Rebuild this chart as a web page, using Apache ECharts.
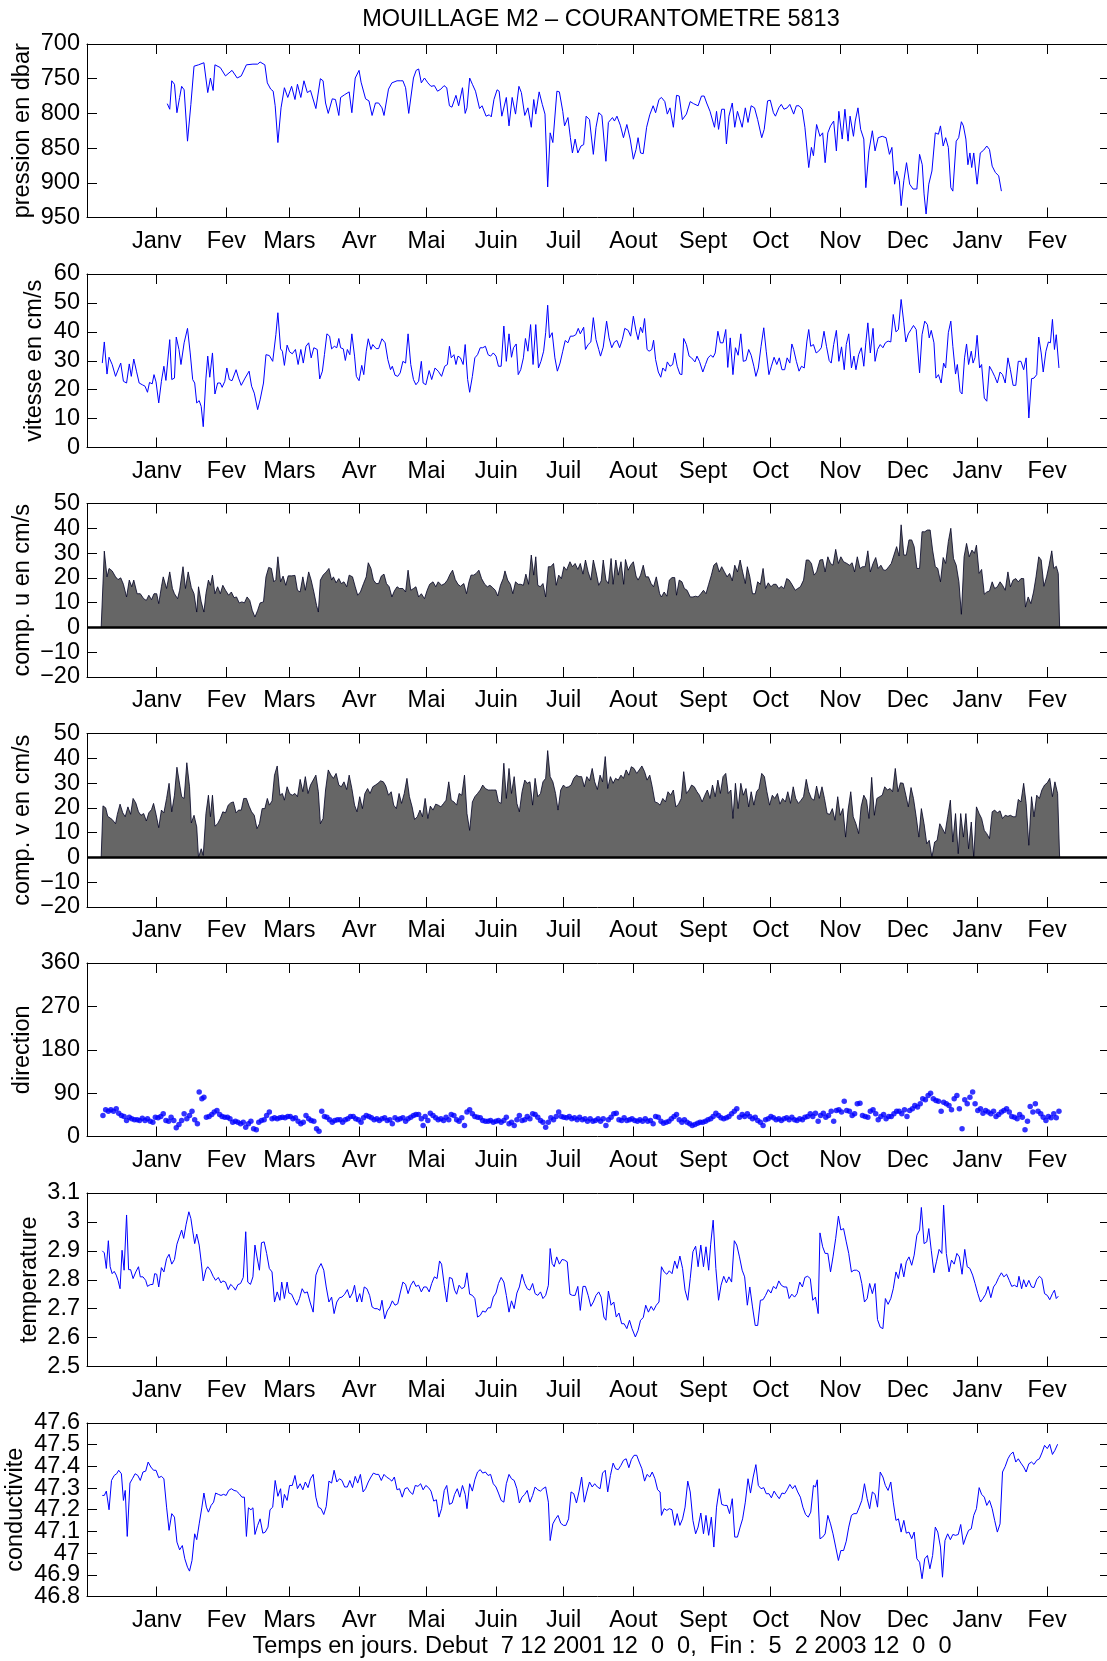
<!DOCTYPE html>
<html><head><meta charset="utf-8">
<script src="https://cdn.jsdelivr.net/npm/echarts@6/dist/echarts.min.js"></script>
<style>html,body{margin:0;padding:0;background:#fff}#c{width:1107px;height:1661px}</style>
</head><body><div id="c"></div>
<script>
// x = days since 1 Dec 2001 00:00
const monthTicks = [31,62,90,121,151,182,212,243,274,304,335,365,396,427];
const monthLabels = ['Janv','Fev','Mars','Avr','Mai','Juin','Juil','Aout','Sept','Oct','Nov','Dec','Janv','Fev'];

const pression = [[35.7,786],[36.8,794],[37.7,753],[38.9,758],[40.0,799],[41.2,777],[42.1,761],[43.2,766],[44.7,840],[46.2,787],[47.6,732],[49.6,730],[52.0,727],[53.7,770],[54.9,749],[56.1,767],[56.9,730],[59.3,734],[61.6,746],[64.5,738],[66.8,749],[68.6,746],[70.9,730],[73.8,729],[75.9,729],[77.0,726],[79.1,730],[80.2,756],[81.7,765],[82.8,768],[83.7,789],[84.9,842],[86.3,792],[87.8,763],[89.3,777],[91.0,761],[92.5,780],[93.6,758],[95.1,777],[96.5,753],[98.0,770],[99.4,767],[101.8,793],[103.8,750],[105.0,753],[106.1,785],[107.3,800],[109.1,779],[110.5,780],[112.0,803],[112.8,777],[114.6,773],[116.6,769],[117.8,799],[119.3,749],[121.0,738],[121.9,755],[122.7,753],[123.9,779],[125.4,782],[126.8,803],[128.3,785],[129.7,785],[131.2,792],[132.1,803],[134.1,765],[135.6,756],[137.9,753],[139.3,753],[140.5,753],[141.7,763],[143.1,800],[145.2,749],[146.4,738],[147.5,736],[148.7,756],[150.1,749],[151.6,756],[153.0,761],[154.5,760],[155.9,768],[157.4,765],[158.8,760],[160.0,763],[161.2,789],[162.3,791],[164.1,774],[165.3,789],[167.0,763],[168.2,800],[169.0,792],[170.2,749],[171.4,758],[172.8,768],[174.6,793],[175.7,789],[177.5,804],[178.9,802],[179.8,805],[181.0,780],[182.4,766],[183.3,768],[184.5,804],[186.5,777],[187.7,818],[189.1,777],[190.6,801],[192.1,761],[193.2,770],[194.7,803],[196.1,792],[197.6,820],[198.7,780],[199.6,801],[201.1,769],[202.5,787],[203.7,801],[204.9,906],[206.0,828],[207.2,842],[209.0,768],[210.1,769],[211.6,797],[212.4,818],[213.9,806],[215.0,835],[215.9,857],[217.1,837],[218.3,857],[219.7,847],[220.9,845],[222.0,804],[223.5,809],[225.2,859],[226.4,820],[227.6,799],[229.0,803],[230.8,869],[231.9,813],[233.7,806],[234.6,811],[235.7,804],[237.2,817],[238.6,835],[240.1,816],[241.6,837],[243.0,866],[244.2,852],[245.1,835],[246.2,857],[247.4,858],[248.9,820],[250.3,802],[251.8,789],[252.9,799],[254.4,780],[255.5,777],[257.0,783],[258.1,801],[259.3,792],[260.8,820],[262.2,774],[263.4,775],[264.8,809],[266.6,801],[268.3,783],[269.8,786],[271.8,789],[273.3,775],[274.5,775],[275.6,785],[277.1,797],[279.1,820],[280.0,797],[280.9,823],[282.3,794],[283.5,794],[284.4,844],[285.5,804],[287.0,785],[288.1,820],[289.3,797],[291.4,820],[292.8,792],[294.0,813],[295.4,789],[296.9,792],[298.3,809],[300.1,835],[301.2,823],[302.7,782],[303.9,781],[305.3,799],[306.2,804],[307.7,792],[308.8,787],[310.0,794],[311.4,792],[312.6,787],[314.3,801],[315.5,789],[316.7,789],[318.1,794],[319.3,820],[321.0,878],[322.2,849],[323.1,861],[324.5,816],[326.0,833],[327.2,828],[328.3,871],[329.5,828],[330.7,818],[332.1,811],[333.3,854],[334.4,797],[335.9,837],[337.1,794],[338.5,840],[339.4,804],[340.9,833],[341.7,811],[342.9,792],[344.1,823],[345.5,837],[346.4,907],[347.8,854],[349.3,825],[350.5,854],[351.9,835],[353.7,833],[355.4,835],[356.9,859],[358.0,849],[359.2,902],[360.1,883],[361.3,897],[362.1,933],[363.3,897],[364.5,871],[365.9,902],[367.4,909],[369.1,909],[370.3,859],[371.5,874],[372.3,916],[373.2,945],[374.4,902],[375.8,883],[377.3,828],[378.7,830],[379.6,818],[380.8,847],[381.9,835],[383.1,849],[384.2,907],[385.1,912],[386.6,840],[387.7,835],[388.9,812],[389.8,818],[390.9,837],[391.8,874],[392.7,857],[393.5,878],[394.4,857],[395.9,902],[397.3,857],[398.8,853],[400.2,847],[401.4,852],[402.6,876],[404.0,885],[405.5,890],[406.7,912]];

const vitesse = [[6.8,29.2],[7.7,36.5],[8.9,25.4],[9.8,31.2],[11.2,28.7],[12.7,24.6],[13.5,24.6],[15.0,29.2],[16.2,22.9],[17.6,22.3],[18.8,28.9],[19.7,24.6],[20.8,30.6],[22.0,26.4],[23.2,22.3],[24.6,21.7],[25.8,21.2],[26.9,19.1],[27.8,22.5],[29.0,22.0],[29.8,25.2],[30.7,22.7],[31.9,15.4],[33.1,22.9],[34.2,28.1],[35.1,23.2],[36.8,37.3],[37.7,23.5],[38.9,24.0],[39.7,38.2],[40.9,33.9],[41.8,28.7],[43.2,36.2],[44.7,41.2],[45.9,32.7],[47.0,23.5],[47.9,22.3],[48.8,15.4],[49.9,16.2],[50.8,14.2],[51.7,7.2],[52.9,24.0],[53.7,31.6],[54.6,24.3],[55.8,32.7],[56.9,18.5],[58.1,22.3],[59.3,22.3],[60.1,20.8],[61.3,22.9],[62.2,27.5],[63.3,23.5],[64.5,23.1],[66.3,26.9],[67.4,24.0],[68.6,21.5],[70.3,24.0],[72.1,26.4],[73.2,21.2],[74.4,18.8],[75.9,13.1],[77.0,16.5],[78.5,22.3],[79.6,32.1],[81.1,31.8],[82.6,29.8],[84.0,39.0],[84.9,46.6],[86.1,34.1],[86.9,33.3],[87.8,28.4],[89.0,35.4],[90.1,33.1],[91.3,32.4],[92.7,33.9],[93.9,28.7],[95.1,33.9],[96.2,29.2],[97.4,35.0],[98.6,36.2],[99.7,31.0],[100.9,34.5],[102.4,33.9],[103.5,23.7],[104.7,26.4],[105.6,32.1],[106.7,39.3],[107.9,38.5],[108.8,34.1],[110.0,35.0],[111.1,34.5],[112.0,37.7],[112.8,34.5],[114.0,34.1],[114.9,30.1],[115.8,33.9],[116.9,32.1],[117.8,39.3],[119.0,31.6],[119.8,24.6],[121.0,23.1],[122.2,28.4],[123.1,25.2],[124.2,33.3],[125.1,37.6],[126.3,33.9],[127.1,35.6],[128.6,34.2],[129.7,34.2],[131.2,37.6],[132.6,36.2],[133.8,30.4],[135.0,26.9],[135.8,28.1],[137.0,25.0],[138.2,24.6],[139.3,25.8],[140.5,29.8],[141.7,29.2],[142.8,39.3],[144.0,28.7],[145.2,23.5],[146.3,21.7],[147.5,22.9],[148.7,29.8],[149.5,22.3],[150.7,21.7],[152.2,26.6],[153.3,23.5],[154.8,27.5],[156.2,26.4],[157.7,24.6],[159.1,28.1],[160.3,28.7],[161.2,35.0],[162.0,31.0],[163.2,32.1],[164.1,28.7],[165.0,31.6],[166.1,31.0],[167.3,28.7],[168.2,35.6],[169.3,23.5],[170.2,19.1],[171.4,24.6],[172.5,31.0],[173.7,32.1],[174.9,34.5],[176.0,34.5],[177.2,35.0],[178.4,32.1],[179.5,31.6],[180.7,32.7],[181.9,31.6],[183.0,28.1],[184.2,28.1],[185.4,42.0],[186.5,29.8],[187.7,39.3],[188.8,31.2],[189.7,34.5],[190.9,35.8],[191.8,25.2],[192.9,26.9],[194.1,31.0],[195.0,37.7],[196.1,33.3],[197.3,42.5],[198.4,28.7],[199.6,42.5],[200.8,27.5],[201.9,29.8],[203.1,33.3],[204.0,39.7],[204.9,49.2],[205.7,37.9],[206.9,39.7],[208.1,31.0],[209.2,26.4],[210.4,29.2],[211.6,33.3],[212.7,37.0],[213.9,36.2],[215.0,38.5],[216.2,38.5],[217.4,39.0],[218.5,41.2],[219.4,39.3],[220.9,41.6],[221.7,33.9],[222.9,35.6],[224.1,36.5],[225.2,44.9],[226.4,37.3],[227.6,33.9],[228.4,31.6],[229.6,34.7],[231.1,43.7],[232.2,37.9],[233.4,34.5],[234.6,36.5],[235.7,37.0],[236.9,34.5],[238.1,37.3],[239.2,41.2],[240.7,40.5],[241.8,38.5],[243.0,45.4],[244.2,40.2],[245.1,37.3],[246.2,41.6],[247.1,39.7],[248.0,44.6],[249.1,33.9],[250.0,33.3],[251.2,33.9],[252.0,37.1],[252.9,30.4],[254.1,26.1],[255.2,24.3],[256.1,27.5],[257.3,26.4],[258.1,29.6],[259.3,28.1],[260.5,28.7],[261.4,32.7],[262.5,28.1],[263.7,25.4],[264.6,25.2],[265.4,37.7],[266.6,35.6],[267.8,31.6],[268.9,31.0],[270.4,29.6],[271.3,31.6],[272.4,29.8],[273.9,26.1],[275.1,28.7],[276.2,31.0],[277.4,31.9],[278.5,31.2],[279.4,32.7],[280.6,40.2],[281.7,36.2],[282.9,36.2],[284.1,40.8],[285.0,27.7],[286.1,37.9],[287.3,25.2],[288.4,34.5],[289.6,31.9],[290.8,39.3],[291.9,29.8],[293.1,30.1],[294.3,33.9],[295.4,31.9],[296.6,28.1],[297.5,24.6],[298.6,27.5],[299.8,35.0],[301.0,41.4],[302.1,33.3],[303.3,25.2],[304.4,28.1],[305.6,31.2],[306.8,28.7],[307.9,31.0],[309.1,26.9],[310.3,26.9],[311.4,31.0],[312.6,29.2],[313.5,35.8],[314.3,33.9],[315.5,29.8],[316.7,26.4],[317.8,28.1],[319.0,27.5],[320.2,36.8],[321.0,40.8],[321.9,35.0],[323.1,35.6],[324.3,32.7],[325.4,33.3],[326.6,34.5],[327.8,40.2],[328.9,35.0],[330.1,30.1],[331.0,29.2],[332.1,35.6],[333.3,40.5],[334.4,29.8],[335.6,34.8],[336.8,26.9],[337.7,35.6],[338.8,39.3],[340.0,27.5],[341.1,31.6],[342.0,26.9],[343.2,32.1],[344.4,34.5],[345.5,28.1],[346.4,36.2],[347.3,43.1],[348.4,32.7],[349.6,41.2],[350.5,29.8],[351.6,33.9],[352.8,35.6],[354.0,34.5],[355.1,36.2],[356.3,36.8],[357.5,36.5],[358.6,46.0],[359.8,40.0],[360.9,40.8],[362.1,51.2],[363.3,43.1],[364.2,36.5],[365.3,39.3],[366.5,40.8],[367.6,42.2],[368.8,40.8],[370.3,25.8],[371.4,39.0],[372.6,43.7],[373.8,42.5],[374.6,37.9],[375.5,40.5],[376.7,36.2],[377.6,24.0],[378.7,25.2],[379.9,22.3],[381.0,29.2],[381.9,27.5],[383.1,39.7],[384.2,43.7],[385.1,35.0],[386.3,25.4],[387.1,28.7],[388.3,19.4],[389.2,18.5],[390.3,31.0],[391.2,35.8],[392.1,28.7],[393.3,33.3],[394.1,29.2],[395.0,31.2],[395.9,38.8],[397.0,27.5],[397.9,28.7],[399.1,17.1],[400.2,16.0],[401.4,28.1],[402.6,26.4],[403.7,24.6],[404.9,22.3],[406.1,26.1],[407.2,25.2],[408.4,22.3],[409.6,31.0],[410.7,26.9],[411.9,21.5],[413.1,21.5],[414.2,29.8],[415.4,29.8],[416.6,26.9],[417.7,31.0],[418.9,10.2],[420.1,23.8],[421.2,24.0],[422.4,25.2],[423.3,38.2],[424.4,32.7],[425.3,26.1],[426.5,33.3],[427.6,36.5],[428.5,36.2],[429.4,44.3],[430.3,33.9],[431.1,39.0],[432.3,27.5]];

const compU = [[6.3,0],[7.7,30.8],[8.9,20.4],[9.8,23.8],[11.2,22.8],[12.7,20.4],[13.8,19.3],[15.0,20.0],[16.2,17.4],[17.6,12.3],[18.8,19.1],[19.9,16.4],[20.8,19.1],[22.3,13.6],[23.7,13.6],[25.2,11.6],[26.4,10.9],[27.5,13.0],[28.7,11.2],[29.8,13.6],[31.0,13.6],[31.9,9.6],[33.1,16.4],[33.9,20.4],[35.4,15.7],[36.8,22.4],[38.0,15.7],[38.9,13.6],[40.3,11.6],[41.2,15.0],[42.7,24.5],[43.8,15.7],[45.0,22.4],[46.4,16.1],[47.6,13.6],[48.8,6.2],[49.6,16.4],[50.8,10.3],[52.0,6.2],[52.9,13.6],[54.0,19.1],[54.9,17.0],[55.8,21.1],[56.9,13.6],[58.1,16.4],[59.3,13.6],[60.4,17.0],[61.6,15.0],[63.0,13.0],[64.2,14.3],[65.4,12.0],[66.5,12.3],[67.7,9.9],[68.9,10.3],[70.0,9.9],[71.2,12.3],[72.4,10.9],[73.5,6.9],[74.7,4.2],[75.9,6.9],[77.0,9.9],[78.5,10.3],[79.6,20.4],[80.8,24.2],[82.0,23.8],[83.1,18.4],[84.0,19.3],[84.9,28.5],[86.1,18.4],[87.2,20.7],[88.4,17.0],[89.5,20.8],[91.0,20.8],[92.5,21.0],[93.6,15.0],[94.8,14.3],[96.0,20.4],[97.1,15.0],[98.6,22.4],[99.7,19.1],[100.9,14.3],[102.1,8.9],[102.9,6.2],[103.8,19.1],[105.0,21.1],[106.4,22.4],[107.6,23.8],[108.8,19.1],[109.6,20.4],[110.8,18.0],[112.0,19.7],[113.1,17.7],[114.3,18.4],[115.5,16.4],[116.6,21.1],[118.1,20.4],[119.3,16.4],[120.4,13.0],[121.6,14.3],[123.0,17.7],[124.2,20.4],[125.1,26.1],[126.3,23.8],[127.4,19.1],[128.6,17.7],[129.7,17.7],[130.9,20.7],[132.1,21.5],[133.2,17.7],[134.4,16.4],[135.6,12.3],[136.7,14.7],[137.9,16.4],[139.0,15.7],[140.5,15.7],[141.7,14.3],[142.8,23.1],[144.0,15.0],[145.2,15.7],[146.3,16.4],[147.5,12.3],[148.7,13.6],[150.1,11.6],[151.3,15.0],[152.4,17.4],[153.9,18.4],[155.1,16.4],[156.2,18.4],[157.7,17.0],[159.1,17.7],[160.3,19.1],[161.5,21.5],[162.6,23.1],[163.8,19.3],[165.0,17.4],[166.1,16.6],[167.6,17.7],[168.8,13.6],[169.9,18.4],[170.8,21.1],[172.0,21.1],[173.1,21.8],[174.3,23.1],[175.5,19.7],[176.9,17.4],[178.1,16.4],[179.2,17.0],[180.4,16.1],[181.6,15.0],[182.7,12.7],[183.9,17.0],[185.1,19.7],[185.9,22.8],[187.1,19.1],[188.3,17.4],[189.4,13.6],[190.6,18.4],[191.8,17.4],[192.9,17.4],[194.1,17.0],[195.2,21.5],[196.4,17.4],[197.6,29.2],[198.7,21.1],[199.6,28.5],[200.5,17.0],[201.6,16.4],[202.8,17.7],[204.0,12.3],[205.2,24.5],[206.3,24.5],[207.5,25.8],[208.7,17.0],[209.8,21.1],[211.0,19.7],[212.1,24.5],[213.3,23.1],[214.8,26.5],[215.9,24.5],[217.1,25.8],[218.3,23.4],[219.4,25.8],[220.6,21.5],[221.7,27.2],[222.9,22.4],[224.1,19.1],[225.2,27.2],[226.4,22.4],[227.6,17.0],[228.7,18.8],[229.6,27.2],[230.8,19.1],[231.9,17.7],[233.1,27.8],[234.0,17.4],[235.2,27.2],[236.3,21.1],[237.5,26.5],[238.7,17.4],[239.5,27.4],[240.7,23.1],[241.8,25.1],[243.0,26.5],[244.2,20.7],[245.1,19.1],[246.2,21.1],[247.4,25.1],[248.5,20.4],[249.7,20.4],[250.9,17.7],[252.0,16.4],[253.2,20.4],[254.7,13.6],[255.5,12.3],[256.7,14.3],[257.9,12.6],[259.0,19.1],[260.2,20.1],[261.4,20.1],[262.2,13.0],[263.4,19.1],[264.6,18.4],[265.7,15.7],[266.9,15.0],[268.3,12.3],[269.5,12.3],[270.7,12.6],[271.8,12.3],[273.0,13.6],[274.2,15.0],[275.3,13.6],[276.5,17.4],[277.7,21.1],[278.8,25.1],[280.0,26.1],[281.2,22.4],[282.3,24.5],[283.5,22.4],[284.7,20.4],[285.8,21.8],[287.0,18.8],[288.1,25.1],[289.3,22.4],[290.5,27.2],[291.6,22.4],[292.8,17.7],[293.7,24.5],[294.8,20.4],[296.0,13.6],[297.2,13.6],[298.3,18.4],[299.5,17.4],[300.7,23.8],[301.8,15.7],[303.0,18.0],[304.2,16.4],[305.3,17.4],[306.5,17.4],[307.7,15.7],[308.8,16.6],[310.0,15.7],[311.2,19.7],[312.3,19.1],[313.5,17.4],[315.0,15.0],[316.1,15.7],[317.3,16.4],[318.7,19.1],[319.9,27.2],[321.0,27.2],[322.2,25.8],[323.4,21.1],[324.5,22.4],[326.0,27.2],[327.2,27.4],[328.3,22.4],[329.5,28.5],[330.7,25.8],[331.8,25.1],[333.0,31.5],[334.2,25.8],[335.3,28.5],[336.5,26.5],[338.0,25.8],[339.1,25.1],[340.3,26.1],[341.4,22.4],[342.6,28.5],[343.8,23.8],[344.9,24.5],[346.1,24.5],[347.3,30.9],[348.4,22.4],[349.6,25.8],[350.8,28.2],[351.9,23.8],[353.1,25.1],[354.3,23.1],[355.4,23.1],[356.6,24.5],[357.7,25.8],[358.9,29.2],[360.1,32.6],[361.2,28.8],[362.1,41.4],[363.3,29.2],[364.4,29.2],[365.6,35.3],[366.8,35.3],[367.9,32.6],[369.1,23.8],[370.3,23.8],[371.4,38.6],[372.6,38.6],[373.8,39.3],[375.0,39.3],[376.1,31.2],[377.3,24.5],[378.4,23.8],[379.6,18.4],[380.8,28.2],[381.9,25.8],[383.1,34.6],[384.2,40.0],[385.4,27.8],[386.6,25.1],[387.8,18.4],[388.9,5.3],[390.1,28.5],[391.2,33.9],[392.4,28.5],[393.6,31.2],[394.7,29.9],[395.6,33.2],[396.8,21.8],[397.9,23.4],[399.1,13.4],[400.2,14.3],[401.4,14.7],[402.6,18.4],[403.7,15.7],[404.9,16.4],[406.1,18.4],[407.2,17.0],[408.4,15.0],[409.6,22.4],[410.7,16.4],[411.9,19.1],[413.1,19.7],[414.2,18.4],[415.4,19.7],[416.6,19.7],[417.4,8.2],[418.6,12.3],[419.8,9.6],[421.0,14.3],[422.1,20.4],[423.3,28.5],[424.4,27.2],[425.6,16.6],[426.8,20.4],[427.9,25.1],[429.1,30.9],[430.0,23.8],[431.1,24.7],[432.0,21.8],[432.6,0]];

const compV = [[6.3,0],[7.1,20.8],[8.3,20.0],[9.2,16.6],[10.0,17.0],[11.2,15.3],[12.7,13.6],[13.5,17.4],[14.7,21.5],[15.9,18.0],[17.0,16.4],[18.2,20.4],[19.4,17.4],[20.5,23.8],[21.7,22.0],[22.9,18.4],[24.0,17.0],[25.2,17.7],[26.4,14.7],[27.5,18.0],[28.7,19.3],[29.6,21.8],[30.7,17.4],[31.9,12.0],[33.1,19.1],[34.2,18.0],[35.4,23.8],[36.5,29.9],[37.7,18.4],[38.9,25.1],[40.0,36.4],[40.9,31.2],[42.1,24.5],[43.2,23.8],[44.4,38.2],[45.6,28.5],[46.4,13.9],[47.6,17.0],[48.8,12.3],[49.6,0],[50.8,3.5],[51.7,0.8],[52.9,17.7],[54.0,25.1],[54.9,16.4],[55.8,25.1],[56.9,12.6],[58.1,13.6],[59.3,15.7],[60.4,18.4],[61.6,18.0],[62.8,21.1],[63.9,22.0],[65.1,22.4],[66.3,18.0],[67.4,19.1],[68.6,19.1],[69.7,23.8],[70.9,23.8],[72.1,20.7],[73.2,18.4],[74.4,17.0],[75.6,11.6],[76.7,13.6],[77.9,19.7],[79.1,19.7],[80.2,23.8],[81.1,21.1],[82.3,22.8],[83.4,33.2],[84.6,36.9],[85.8,25.1],[86.9,25.8],[87.8,23.1],[89.0,28.5],[90.1,25.8],[91.3,25.1],[92.5,25.8],[93.6,24.5],[94.8,31.5],[96.0,26.5],[97.1,32.6],[98.3,25.8],[99.4,29.2],[100.6,31.2],[101.8,33.2],[102.9,26.5],[103.8,13.6],[105.0,15.7],[106.1,27.2],[107.3,35.3],[108.5,33.2],[109.6,31.9],[110.8,33.9],[112.0,29.2],[113.1,28.5],[114.3,30.5],[115.5,27.4],[116.6,33.2],[117.8,27.8],[119.0,21.1],[120.1,18.4],[121.3,24.5],[122.5,19.7],[123.6,25.8],[124.8,27.8],[125.9,25.8],[127.1,28.5],[128.3,29.2],[129.4,29.9],[130.6,30.9],[131.8,30.5],[132.9,28.8],[134.1,25.1],[135.3,26.5],[136.4,21.1],[137.6,19.7],[138.8,25.8],[139.9,21.8],[141.1,25.8],[142.3,31.9],[143.4,24.5],[144.6,20.4],[145.7,15.3],[146.9,16.4],[148.1,19.1],[149.2,16.4],[150.4,23.8],[151.6,15.7],[152.7,20.7],[153.9,19.1],[155.1,21.5],[156.2,21.1],[157.4,20.4],[158.6,21.8],[159.7,23.1],[160.9,30.5],[162.0,23.1],[163.2,22.4],[164.4,21.1],[165.5,25.8],[166.7,25.1],[167.9,33.2],[169.0,17.7],[170.2,10.9],[171.4,22.4],[172.5,24.5],[173.7,25.8],[174.9,27.2],[176.0,29.2],[177.2,27.8],[178.4,27.2],[179.5,27.2],[180.7,27.2],[181.9,27.2],[183.0,22.4],[184.2,21.8],[185.4,38.0],[186.5,23.8],[187.7,35.9],[188.8,25.8],[190.0,32.6],[191.2,21.8],[192.3,18.4],[193.5,26.5],[194.7,31.2],[195.8,29.9],[197.0,30.5],[198.2,21.1],[199.3,31.9],[200.5,24.5],[201.7,25.8],[202.8,30.5],[204.0,31.9],[204.9,43.1],[206.0,32.6],[207.2,30.5],[208.4,25.8],[209.5,19.1],[210.7,27.2],[211.9,29.2],[213.0,28.2],[214.2,28.5],[215.3,29.2],[216.5,31.9],[217.7,33.2],[218.8,32.6],[220.0,32.6],[221.2,28.5],[222.3,32.6],[223.5,30.9],[224.7,35.9],[225.8,30.5],[227.0,27.4],[228.2,33.2],[229.3,30.5],[230.5,40.7],[231.6,27.8],[232.8,32.6],[234.0,29.9],[235.1,31.9],[236.3,31.2],[237.5,33.2],[238.6,31.9],[239.8,35.3],[241.0,33.2],[242.1,36.6],[243.3,35.9],[244.5,33.9],[245.6,35.3],[246.8,36.9],[248.0,34.6],[249.1,31.2],[250.3,33.2],[251.4,28.5],[252.6,22.4],[253.8,22.0],[254.9,21.1],[256.1,23.8],[257.3,22.4],[258.4,26.5],[259.6,25.1],[260.8,27.2],[261.9,20.4],[263.1,21.5],[264.3,23.8],[265.4,34.6],[266.6,25.8],[267.8,27.2],[268.9,29.2],[270.1,28.5],[271.3,26.5],[272.4,25.1],[273.6,22.4],[274.8,25.1],[275.9,27.2],[277.1,23.8],[278.2,29.2],[279.4,24.5],[280.6,31.2],[281.7,25.8],[282.9,32.6],[284.1,33.9],[285.2,25.8],[286.4,27.2],[287.3,15.7],[288.4,29.9],[289.6,19.7],[290.8,29.9],[291.9,25.1],[293.1,27.8],[294.3,20.4],[295.4,26.5],[296.6,21.1],[297.8,26.5],[298.9,27.8],[300.1,33.9],[301.3,32.6],[302.4,26.5],[303.6,21.1],[304.8,25.1],[305.9,23.8],[307.1,25.8],[308.2,21.5],[309.4,23.8],[310.6,22.4],[311.7,26.5],[312.9,21.8],[314.1,28.5],[315.2,23.8],[316.4,21.8],[317.6,23.1],[318.7,24.5],[319.9,31.5],[321.0,26.5],[322.2,23.8],[323.4,23.1],[324.5,28.8],[325.7,23.8],[326.9,28.5],[328.0,23.8],[329.2,17.7],[330.4,17.4],[331.5,19.7],[332.7,15.0],[333.9,24.5],[335.0,17.0],[336.2,19.7],[337.4,8.2],[338.5,19.1],[339.7,26.5],[340.8,16.4],[342.0,13.6],[343.2,9.6],[344.3,20.4],[345.5,25.1],[346.7,23.1],[347.8,15.7],[349.0,32.3],[350.2,17.0],[351.3,23.8],[352.5,24.5],[353.7,25.1],[354.8,28.5],[356.0,27.2],[357.2,27.8],[358.3,26.5],[359.5,35.9],[360.7,26.5],[361.8,30.1],[363.0,29.9],[364.2,25.1],[365.3,20.4],[366.5,28.2],[367.6,23.8],[368.8,16.4],[370.0,8.2],[371.1,19.7],[372.3,13.6],[373.5,5.5],[374.6,6.9],[375.8,0.1],[377.0,6.2],[378.1,6.9],[379.3,13.6],[380.5,11.6],[381.6,9.6],[382.8,16.4],[384.0,23.1],[385.1,6.2],[386.3,17.7],[387.5,1.5],[388.6,17.7],[389.8,8.2],[390.9,17.7],[392.1,3.5],[393.3,14.3],[394.4,0],[395.6,20.4],[396.8,17.7],[397.9,15.7],[399.1,10.9],[400.2,9.6],[401.4,7.6],[402.6,18.4],[403.7,19.1],[404.9,18.0],[406.1,18.8],[407.2,15.7],[408.4,17.0],[409.6,16.6],[410.7,17.0],[411.9,16.4],[413.1,16.4],[414.2,23.4],[415.4,22.4],[416.6,29.9],[417.7,21.8],[418.9,4.9],[420.1,24.5],[421.2,16.4],[422.4,25.1],[423.6,23.8],[424.7,27.2],[425.9,29.2],[427.1,30.1],[428.2,31.9],[429.4,24.5],[430.5,30.5],[431.7,25.8],[432.6,0]];

const direction = [[7.1,43.6],[8.3,55.4],[9.5,52.6],[10.6,55.4],[11.8,52.6],[13.0,57.5],[14.1,48.5],[15.3,43.6],[16.5,41.6],[17.6,33.2],[18.8,40.2],[19.9,36.7],[21.1,34.6],[22.3,34.6],[23.4,33.2],[24.6,38.1],[25.8,33.2],[26.9,36.7],[28.1,31.9],[29.3,29.8],[30.4,40.2],[31.6,38.8],[32.8,41.6],[33.9,47.1],[35.1,33.2],[36.3,31.9],[37.4,40.2],[38.6,33.2],[39.7,18.0],[40.9,24.9],[42.1,33.2],[43.2,47.1],[44.4,36.7],[45.6,43.6],[46.7,52.6],[47.9,34.6],[49.1,26.3],[49.9,92.1],[51.1,78.3],[52.0,81.7],[53.1,40.2],[54.3,41.6],[55.5,45.7],[56.6,50.6],[57.8,54.0],[59.0,45.7],[60.1,41.6],[61.3,40.2],[62.5,40.2],[63.6,36.7],[64.8,29.8],[66.0,31.9],[67.1,29.8],[68.3,26.3],[69.5,29.8],[70.6,19.4],[71.8,26.3],[72.9,31.9],[74.1,15.9],[75.3,13.9],[76.4,29.8],[77.6,33.2],[78.8,34.6],[79.9,43.6],[81.1,50.6],[82.3,36.7],[83.4,38.8],[84.6,36.7],[85.8,38.8],[86.9,40.2],[88.1,38.8],[89.3,41.6],[90.4,41.6],[91.6,36.7],[92.7,38.8],[93.9,31.9],[95.1,26.3],[96.2,29.8],[97.4,43.6],[98.6,36.7],[99.7,33.2],[100.9,31.9],[102.1,15.9],[103.2,11.1],[104.4,52.6],[105.6,41.6],[106.7,40.2],[107.9,34.6],[109.1,29.8],[110.2,33.2],[111.4,34.6],[112.6,34.6],[113.7,29.8],[114.9,34.6],[116.0,36.7],[117.2,41.6],[118.4,41.6],[119.5,36.7],[120.7,34.6],[121.9,29.8],[123.0,38.8],[124.2,43.6],[125.4,41.6],[126.5,38.8],[127.7,34.6],[128.9,36.7],[130.0,33.2],[131.2,36.7],[132.4,38.8],[133.5,33.2],[134.7,34.6],[135.8,26.3],[137.0,38.8],[138.2,34.6],[139.3,36.7],[140.5,38.8],[141.7,31.9],[142.8,36.7],[144.0,40.2],[145.2,43.6],[146.3,45.7],[147.5,45.7],[148.7,36.7],[149.5,22.9],[150.4,41.6],[151.6,33.2],[152.7,48.5],[153.9,43.6],[155.1,38.8],[156.2,34.6],[157.4,36.7],[158.6,33.2],[159.7,40.2],[160.9,34.6],[162.0,45.7],[163.2,43.6],[164.4,34.6],[165.5,31.9],[166.7,38.8],[167.9,22.9],[169.0,50.6],[170.2,55.4],[171.4,47.1],[172.5,41.6],[173.7,40.2],[174.9,38.8],[176.0,33.2],[177.2,31.9],[178.4,31.9],[179.5,33.2],[180.7,29.8],[181.9,31.9],[183.0,33.2],[184.2,29.8],[185.4,33.2],[186.5,40.2],[187.7,26.3],[188.8,29.8],[190.0,22.9],[191.2,34.6],[192.3,43.6],[193.5,33.2],[194.7,34.6],[195.8,41.6],[197.0,36.7],[198.2,47.1],[199.3,45.7],[200.5,40.2],[201.7,33.2],[202.8,29.8],[204.0,19.4],[205.2,29.8],[206.3,38.8],[207.5,34.6],[208.7,41.6],[209.8,50.6],[211.0,41.6],[212.1,40.2],[213.3,38.8],[214.5,41.6],[215.6,36.7],[216.8,38.8],[218.0,34.6],[219.1,40.2],[220.3,34.6],[221.5,36.7],[222.6,31.9],[223.8,36.7],[225.0,31.9],[226.1,33.2],[227.3,36.7],[228.4,31.9],[229.6,36.7],[230.8,22.9],[231.9,34.6],[233.1,40.2],[234.3,47.1],[235.4,48.5],[236.6,34.6],[237.8,33.2],[238.9,38.8],[240.1,33.2],[241.3,34.6],[242.4,36.7],[243.6,33.2],[244.8,31.9],[245.9,34.6],[247.1,31.9],[248.3,36.7],[249.4,31.9],[250.6,33.2],[251.8,26.3],[252.9,41.6],[254.1,40.2],[255.3,31.9],[256.4,27.7],[257.6,29.8],[258.8,31.9],[259.9,36.7],[261.1,41.6],[262.2,45.7],[263.4,34.6],[264.6,29.8],[265.7,34.6],[266.9,29.8],[268.1,26.3],[269.2,22.9],[270.4,24.9],[271.6,27.7],[272.7,29.8],[273.9,29.8],[275.1,31.9],[276.2,34.6],[277.4,36.7],[278.5,41.6],[279.7,48.5],[280.9,43.6],[282.0,38.8],[283.2,36.7],[284.4,38.8],[285.5,41.6],[286.7,47.1],[287.9,52.6],[289.0,57.5],[290.2,40.2],[291.4,45.7],[292.5,41.6],[293.7,47.1],[294.8,41.6],[296.0,36.7],[297.2,40.2],[298.3,33.2],[299.5,29.8],[300.7,22.9],[301.8,34.6],[303.0,36.7],[304.2,41.6],[305.3,38.8],[306.5,34.6],[307.7,36.7],[308.8,33.2],[310.0,36.7],[311.2,38.8],[312.3,34.6],[313.5,40.2],[314.7,34.6],[315.8,33.2],[317.0,36.7],[318.2,34.6],[319.3,40.2],[320.5,41.6],[321.7,47.1],[322.8,41.6],[324.0,48.5],[325.2,31.9],[326.3,43.6],[327.5,48.5],[328.6,40.2],[329.8,43.6],[331.0,52.6],[332.1,31.9],[333.3,54.0],[334.4,55.4],[335.6,50.6],[336.8,73.4],[337.9,54.0],[339.1,52.6],[340.3,43.6],[341.4,47.1],[342.6,67.9],[343.8,69.2],[344.9,43.6],[346.1,41.6],[347.3,40.2],[348.4,52.6],[349.6,55.4],[350.8,47.1],[351.9,34.6],[353.1,41.6],[354.3,45.7],[355.4,36.7],[356.6,41.6],[357.7,41.6],[358.9,47.1],[360.1,52.6],[361.2,52.6],[362.4,47.1],[363.6,55.4],[364.7,41.6],[365.9,54.0],[367.1,57.5],[368.2,64.4],[369.4,61.0],[370.6,67.9],[371.7,78.3],[372.9,76.2],[374.1,85.2],[375.2,90.0],[376.4,78.3],[377.6,74.8],[378.7,73.4],[379.9,52.6],[381.0,71.3],[382.2,67.9],[383.4,64.4],[384.5,55.4],[385.7,78.3],[386.9,85.2],[388.0,57.5],[389.2,15.9],[390.4,76.2],[391.5,67.9],[392.7,81.7],[393.9,92.1],[395.0,67.9],[396.2,54.0],[397.4,57.5],[398.5,48.5],[399.7,54.0],[400.8,50.6],[402.0,47.1],[403.2,52.6],[404.3,41.6],[405.5,45.7],[406.7,50.6],[407.8,54.0],[409.0,57.5],[410.2,50.6],[411.3,41.6],[412.5,40.2],[413.7,36.7],[414.8,45.7],[416.0,40.2],[417.2,13.9],[418.3,31.9],[419.5,62.3],[420.7,50.6],[421.8,67.9],[423.0,52.6],[424.2,47.1],[425.3,40.2],[426.5,33.2],[427.6,41.6],[428.8,38.8],[430.0,47.1],[431.1,38.8],[432.3,52.6]];

const temperature = [[6.8,2.900],[7.7,2.893],[8.6,2.839],[9.5,2.935],[10.3,2.845],[11.2,2.821],[12.1,2.829],[13.0,2.816],[13.8,2.798],[14.7,2.769],[15.6,2.902],[16.5,2.833],[17.6,3.024],[18.5,2.835],[19.4,2.835],[20.5,2.804],[21.7,2.827],[22.9,2.845],[23.7,2.810],[24.9,2.810],[26.1,2.798],[26.9,2.777],[28.1,2.783],[29.3,2.784],[30.1,2.821],[31.0,2.819],[31.9,2.775],[33.1,2.842],[34.2,2.827],[35.4,2.873],[36.5,2.888],[37.7,2.854],[38.9,2.870],[40.0,2.923],[41.2,2.951],[42.1,2.972],[43.0,2.943],[44.1,2.992],[45.3,3.035],[46.2,3.012],[47.0,2.969],[47.9,2.925],[48.8,2.958],[49.9,2.920],[50.8,2.862],[51.7,2.796],[52.9,2.835],[53.7,2.845],[54.9,2.833],[56.1,2.812],[57.2,2.798],[58.4,2.808],[59.6,2.789],[60.4,2.796],[61.6,2.792],[62.8,2.766],[63.9,2.784],[65.1,2.775],[66.0,2.764],[67.1,2.783],[68.3,2.787],[69.5,2.808],[70.6,2.966],[71.5,2.792],[72.7,2.784],[73.8,2.810],[74.7,2.920],[75.6,2.879],[76.7,2.833],[77.6,2.928],[78.8,2.931],[79.9,2.891],[81.1,2.839],[82.3,2.827],[83.4,2.723],[84.6,2.758],[85.8,2.729],[86.6,2.792],[87.8,2.735],[89.0,2.792],[89.8,2.754],[91.0,2.750],[92.2,2.729],[93.3,2.712],[94.5,2.735],[95.7,2.769],[96.8,2.754],[98.0,2.758],[99.2,2.723],[100.6,2.688],[101.8,2.816],[102.9,2.839],[104.1,2.856],[105.3,2.833],[106.4,2.775],[107.6,2.723],[108.8,2.740],[109.9,2.683],[111.1,2.723],[112.3,2.738],[113.4,2.740],[114.6,2.750],[115.8,2.766],[116.9,2.737],[118.1,2.754],[119.0,2.781],[120.1,2.723],[121.3,2.752],[122.2,2.723],[123.3,2.775],[124.5,2.769],[125.7,2.746],[126.8,2.706],[128.0,2.700],[129.1,2.700],[130.3,2.694],[131.2,2.729],[132.4,2.665],[133.5,2.692],[134.7,2.706],[135.8,2.727],[137.0,2.712],[138.2,2.717],[139.3,2.754],[140.5,2.792],[141.7,2.784],[142.8,2.752],[144.0,2.781],[145.2,2.796],[146.3,2.777],[147.5,2.781],[148.7,2.758],[149.8,2.775],[151.0,2.775],[152.2,2.758],[153.3,2.787],[154.5,2.810],[155.7,2.804],[156.8,2.865],[157.7,2.854],[158.9,2.781],[160.0,2.723],[161.2,2.808],[162.4,2.804],[163.5,2.764],[164.4,2.750],[165.5,2.781],[166.7,2.769],[167.9,2.775],[169.0,2.824],[170.2,2.750],[171.4,2.746],[172.5,2.735],[173.7,2.671],[174.9,2.677],[176.0,2.692],[177.2,2.688],[178.4,2.703],[179.5,2.703],[180.7,2.740],[181.9,2.754],[183.0,2.787],[184.2,2.808],[185.4,2.792],[186.5,2.746],[187.7,2.688],[188.8,2.727],[190.0,2.700],[191.2,2.754],[192.3,2.775],[193.5,2.819],[194.7,2.787],[195.8,2.769],[197.0,2.764],[198.2,2.787],[199.3,2.752],[200.5,2.746],[201.7,2.758],[202.8,2.735],[204.0,2.746],[205.2,2.781],[206.0,2.908],[206.9,2.856],[207.8,2.845],[208.9,2.879],[210.1,2.854],[211.3,2.870],[212.4,2.868],[213.6,2.862],[214.8,2.750],[215.9,2.746],[217.1,2.746],[218.3,2.777],[219.4,2.694],[220.6,2.777],[221.7,2.777],[222.9,2.746],[224.1,2.708],[225.2,2.723],[226.4,2.746],[227.6,2.758],[228.7,2.740],[229.9,2.671],[230.8,2.660],[231.9,2.761],[233.1,2.712],[234.3,2.723],[235.4,2.671],[236.6,2.685],[237.8,2.648],[238.9,2.648],[240.1,2.631],[241.3,2.660],[242.4,2.631],[243.9,2.602],[245.1,2.625],[246.2,2.660],[247.4,2.669],[248.5,2.712],[249.7,2.688],[250.9,2.708],[252.0,2.694],[253.2,2.712],[254.4,2.723],[255.5,2.845],[256.7,2.827],[257.9,2.819],[259.0,2.831],[260.2,2.821],[261.4,2.865],[262.5,2.839],[263.7,2.882],[264.9,2.839],[266.0,2.764],[267.2,2.729],[268.3,2.804],[269.5,2.897],[270.7,2.916],[271.8,2.845],[273.0,2.920],[274.2,2.845],[275.3,2.914],[276.5,2.833],[277.4,2.923],[278.5,3.006],[279.7,2.839],[280.9,2.729],[282.0,2.781],[283.2,2.812],[284.4,2.789],[285.5,2.810],[286.7,2.792],[287.9,2.935],[289.0,2.920],[290.2,2.879],[291.4,2.833],[292.5,2.810],[293.7,2.712],[294.8,2.775],[296.0,2.706],[297.2,2.642],[298.3,2.642],[299.5,2.729],[300.7,2.731],[301.8,2.746],[303.0,2.766],[304.2,2.754],[305.3,2.777],[306.5,2.769],[307.7,2.796],[308.8,2.781],[310.0,2.775],[311.2,2.775],[312.3,2.735],[313.5,2.750],[314.7,2.740],[315.8,2.752],[317.0,2.792],[318.2,2.775],[319.3,2.808],[320.5,2.812],[321.7,2.804],[322.8,2.729],[324.0,2.740],[325.2,2.683],[326.0,2.962],[327.2,2.914],[328.3,2.891],[329.5,2.891],[330.7,2.827],[331.8,2.879],[333.0,2.943],[334.2,3.020],[335.3,2.972],[336.5,2.977],[337.7,2.931],[338.8,2.891],[340.0,2.827],[341.1,2.833],[342.3,2.833],[343.5,2.827],[344.6,2.787],[345.8,2.723],[347.0,2.735],[348.1,2.787],[349.3,2.752],[350.5,2.787],[351.6,2.662],[352.8,2.636],[354.0,2.631],[355.1,2.735],[356.3,2.715],[357.5,2.735],[358.6,2.769],[359.8,2.827],[360.9,2.804],[362.1,2.856],[363.3,2.810],[364.4,2.862],[365.6,2.879],[366.8,2.850],[367.9,2.885],[369.1,2.954],[370.3,2.972],[371.1,3.050],[372.3,2.925],[373.5,2.931],[374.4,2.977],[375.5,2.902],[376.7,2.824],[377.8,2.862],[379.0,2.905],[380.2,2.891],[381.0,3.058],[382.2,2.891],[383.4,2.827],[384.5,2.868],[385.7,2.854],[386.9,2.891],[388.0,2.879],[389.2,2.819],[390.4,2.905],[391.5,2.845],[392.7,2.839],[393.9,2.816],[395.0,2.787],[396.2,2.752],[397.4,2.723],[398.5,2.735],[399.7,2.750],[400.8,2.777],[402.0,2.738],[403.2,2.775],[404.3,2.787],[405.5,2.808],[406.7,2.824],[407.8,2.810],[409.0,2.819],[410.2,2.798],[411.3,2.777],[412.5,2.781],[413.7,2.775],[414.5,2.812],[415.7,2.769],[416.6,2.800],[417.7,2.775],[418.9,2.798],[420.1,2.775],[421.2,2.773],[422.4,2.800],[423.6,2.812],[424.7,2.804],[425.9,2.752],[427.1,2.746],[428.2,2.731],[429.4,2.752],[430.3,2.764],[431.1,2.735],[432.0,2.743]];

const conductivite = [[6.8,47.266],[7.7,47.266],[8.6,47.286],[9.8,47.200],[10.9,47.335],[12.1,47.358],[13.2,47.366],[14.1,47.382],[15.3,47.366],[16.2,47.243],[17.0,47.289],[17.9,47.077],[19.1,47.323],[20.2,47.343],[21.4,47.366],[22.6,47.358],[23.7,47.335],[24.9,47.374],[26.1,47.378],[27.2,47.420],[28.4,47.397],[29.6,47.382],[30.7,47.382],[31.9,47.348],[33.1,47.354],[34.2,47.343],[35.4,47.212],[36.5,47.105],[37.7,47.182],[38.9,47.166],[40.0,47.051],[41.2,47.015],[42.4,47.035],[43.5,46.974],[44.7,46.935],[45.6,46.917],[46.7,46.966],[47.9,47.089],[48.8,47.062],[49.9,47.135],[51.1,47.212],[52.0,47.277],[53.1,47.212],[54.0,47.189],[55.2,47.220],[56.3,47.235],[57.2,47.277],[58.4,47.271],[59.6,47.266],[60.7,47.271],[61.9,47.266],[63.0,47.289],[64.2,47.297],[65.4,47.289],[66.5,47.286],[67.7,47.274],[68.9,47.258],[70.0,47.258],[70.9,47.077],[71.8,47.209],[72.9,47.200],[73.8,47.209],[74.7,47.086],[75.9,47.128],[77.0,47.158],[78.2,47.092],[79.3,47.097],[80.5,47.120],[81.4,47.200],[82.6,47.212],[83.7,47.335],[84.9,47.262],[86.1,47.297],[86.9,47.209],[87.8,47.271],[89.0,47.243],[90.1,47.312],[91.3,47.312],[92.5,47.358],[93.6,47.297],[94.8,47.320],[96.0,47.292],[97.1,47.328],[98.3,47.302],[99.4,47.343],[100.6,47.363],[101.8,47.258],[102.9,47.212],[104.1,47.205],[105.3,47.178],[106.4,47.215],[107.6,47.332],[108.8,47.323],[109.9,47.382],[111.1,47.328],[112.3,47.343],[113.4,47.335],[114.6,47.305],[115.8,47.305],[116.9,47.335],[118.1,47.302],[119.3,47.354],[120.4,47.323],[121.6,47.363],[122.8,47.282],[123.9,47.297],[125.1,47.328],[126.3,47.351],[127.4,47.369],[128.6,47.363],[129.7,47.363],[130.9,47.335],[132.1,47.363],[133.2,47.351],[134.4,47.343],[135.6,47.332],[136.7,47.351],[137.9,47.292],[139.0,47.297],[140.2,47.258],[141.4,47.297],[142.5,47.302],[143.7,47.282],[144.9,47.271],[146.0,47.312],[147.2,47.308],[148.4,47.320],[149.5,47.292],[150.7,47.312],[151.9,47.302],[153.0,47.286],[154.2,47.240],[155.4,47.246],[156.5,47.166],[157.7,47.205],[158.9,47.289],[160.0,47.312],[161.2,47.225],[162.4,47.231],[163.5,47.271],[164.7,47.297],[165.8,47.258],[167.0,47.312],[168.2,47.271],[169.0,47.205],[170.2,47.320],[171.4,47.286],[172.5,47.338],[173.7,47.374],[174.9,47.385],[176.0,47.369],[177.2,47.374],[178.4,47.358],[179.5,47.363],[180.7,47.320],[181.9,47.305],[183.0,47.277],[184.2,47.243],[185.4,47.235],[186.5,47.320],[187.7,47.363],[188.8,47.343],[190.0,47.335],[191.2,47.297],[192.3,47.231],[193.5,47.258],[194.7,47.271],[195.8,47.289],[197.0,47.235],[198.2,47.266],[199.3,47.305],[200.5,47.292],[201.7,47.286],[202.8,47.297],[204.0,47.305],[205.2,47.235],[206.0,47.058],[207.2,47.135],[208.4,47.158],[209.5,47.174],[210.7,47.138],[211.9,47.128],[213.0,47.128],[214.2,47.158],[215.3,47.282],[216.5,47.274],[217.7,47.231],[218.8,47.282],[220.0,47.351],[221.2,47.235],[222.3,47.282],[223.5,47.328],[224.7,47.305],[225.8,47.320],[227.0,47.305],[228.2,47.297],[229.3,47.369],[230.5,47.382],[231.6,47.282],[232.8,47.358],[234.0,47.415],[235.1,47.389],[236.3,47.385],[237.5,47.405],[238.6,47.428],[239.8,47.435],[241.0,47.394],[242.1,47.431],[243.3,47.451],[244.5,47.451],[245.6,47.420],[246.8,47.389],[248.0,47.332],[249.1,47.363],[250.3,47.351],[251.4,47.374],[252.6,47.343],[253.8,47.292],[254.9,47.282],[255.5,47.174],[256.7,47.205],[257.9,47.197],[259.0,47.205],[260.2,47.200],[261.4,47.128],[262.5,47.182],[263.7,47.128],[264.9,47.158],[266.0,47.212],[267.2,47.332],[268.3,47.282],[269.5,47.151],[270.7,47.089],[271.8,47.120],[273.0,47.185],[274.2,47.089],[275.3,47.174],[276.5,47.082],[277.7,47.166],[278.8,47.028],[280.0,47.212],[281.2,47.297],[282.3,47.225],[283.5,47.220],[284.7,47.220],[285.8,47.182],[287.0,47.251],[288.1,47.074],[289.3,47.074],[290.5,47.120],[291.6,47.158],[292.8,47.235],[294.0,47.343],[295.1,47.277],[296.3,47.351],[297.5,47.408],[298.6,47.312],[299.8,47.297],[301.0,47.302],[302.1,47.274],[303.3,47.274],[304.4,47.255],[305.6,47.286],[306.8,47.266],[307.9,47.251],[309.1,47.277],[310.3,47.274],[311.4,47.292],[312.6,47.317],[313.8,47.297],[314.9,47.312],[316.1,47.282],[317.3,47.258],[318.4,47.212],[319.6,47.178],[320.8,47.166],[321.9,47.189],[323.1,47.312],[324.0,47.305],[324.8,47.338],[326.0,47.066],[327.2,47.074],[328.3,47.089],[329.5,47.174],[330.7,47.135],[331.8,47.089],[333.0,47.028],[334.2,46.966],[335.3,47.012],[336.5,47.012],[337.7,47.055],[338.8,47.120],[340.0,47.174],[341.1,47.182],[342.3,47.182],[343.5,47.212],[344.6,47.243],[345.8,47.320],[347.0,47.251],[348.1,47.205],[349.3,47.282],[350.5,47.271],[351.6,47.212],[352.8,47.374],[354.0,47.351],[355.1,47.312],[356.3,47.289],[357.5,47.328],[358.6,47.235],[359.8,47.151],[360.9,47.158],[362.1,47.097],[363.3,47.151],[364.4,47.092],[365.6,47.097],[366.8,47.066],[367.9,47.097],[369.1,46.974],[370.3,46.958],[371.4,46.882],[372.6,46.974],[373.8,46.989],[374.9,46.928],[376.1,46.989],[377.3,47.120],[378.4,47.097],[379.6,47.028],[380.5,46.889],[381.6,47.058],[382.8,47.089],[384.0,47.062],[385.1,47.086],[386.3,47.082],[387.5,47.086],[388.6,47.132],[389.8,47.040],[390.9,47.074],[392.1,47.105],[393.3,47.112],[394.4,47.174],[395.6,47.205],[396.8,47.302],[397.9,47.271],[399.1,47.258],[400.2,47.220],[401.4,47.243],[402.6,47.205],[403.7,47.151],[404.9,47.097],[406.1,47.135],[407.2,47.374],[408.4,47.400],[409.6,47.435],[410.7,47.455],[411.9,47.466],[413.1,47.420],[414.2,47.435],[415.4,47.415],[416.6,47.397],[417.7,47.374],[418.9,47.412],[420.1,47.420],[421.2,47.409],[422.4,47.428],[423.6,47.435],[424.7,47.462],[425.9,47.497],[427.1,47.482],[428.2,47.502],[429.4,47.455],[430.5,47.474],[431.7,47.502]];

const titleText = 'MOUILLAGE M2 \u2013 COURANTOMETRE 5813';
const xLabelText = 'Temps en jours. Debut  7 12 2001 12  0  0,  Fin :  5  2 2003 12  0  0';

const FONT = "'Liberation Sans', Arial, Helvetica, sans-serif";
const FS = 23.5;
const GL = 87, GW = 1023, GH = 173.5;
const tops = [44, 274, 503.5, 733.5, 963, 1193, 1423];
const panels = [
  {name:'pression en dbar', min:700, max:950, interval:50, inverse:true, data:pression, kind:'line', gap:52},
  {name:'vitesse en cm/s', min:0, max:60, interval:10, data:vitesse, kind:'line', gap:40.5},
  {name:'comp. u en cm/s', min:-20, max:50, interval:10, data:compU, kind:'area', gap:52},
  {name:'comp. v en cm/s', min:-20, max:50, interval:10, data:compV, kind:'area', gap:52},
  {name:'direction', min:0, max:360, interval:90, data:direction, kind:'scatter', gap:52},
  {name:'temperature', min:2.5, max:3.1, interval:0.1, data:temperature, kind:'line', gap:45.5},
  {name:'conductivite', min:46.8, max:47.6, interval:0.1, data:conductivite, kind:'line', gap:59.5, splitLabels:true}
];

const grid=[], xAxis=[], yAxis=[], series=[];
const tickStyle = {show:true, inside:true, length:10, customValues:monthTicks, lineStyle:{color:'#000', width:1}};
const fmtY = (v)=>{ const r = Math.round(v*1000)/1000; return String(r).replace('-', '\u2212'); };
const yLabel = (show)=>({show:show, interval:0, hideOverlap:false, margin:7, lineHeight:14, padding:[4,0,0,0],
      color:'#000', fontSize:FS, fontFamily:FONT, showMinLabel:true, showMaxLabel:true, formatter:fmtY});

// label-only overlay axis (no line, no ticks) in its own grid
function addLabelAxis(top, height, min, max, interval) {
  const gi = grid.length;
  grid.push({left:GL, width:GW, top:top, height:height, containLabel:false, outerBoundsMode:'none'});
  xAxis.push({type:'value', gridIndex:gi, min:0, max:455, show:false});
  yAxis.push({type:'value', gridIndex:gi, min:min, max:max, interval:interval, position:'left',
    axisLine:{show:false}, axisTick:{show:false}, splitLine:{show:false}, axisLabel:yLabel(true)});
}

panels.forEach((p,i)=>{
  grid.push({left:GL, width:GW, top:tops[i], height:GH, containLabel:false, outerBoundsMode:'none'});
  xAxis.push({type:'value', gridIndex:i, min:0, max:455, position:'bottom',
    axisLine:{show:true, onZero:false, lineStyle:{color:'#000', width:1}},
    axisTick:tickStyle,
    axisLabel:{show:true, customValues:monthTicks, margin:12, color:'#000', fontSize:FS, fontFamily:FONT,
      hideOverlap:false, formatter:(v)=>{const k=monthTicks.indexOf(Math.round(v)); return k>=0?monthLabels[k]:'';}},
    splitLine:{show:false}});
  xAxis.push({type:'value', gridIndex:i, min:0, max:455, position:'top',
    axisLine:{show:true, onZero:false, lineStyle:{color:'#000', width:1}},
    axisTick:tickStyle, axisLabel:{show:false}, splitLine:{show:false}});
  const yt = {show:true, inside:true, length:10, interval:0, lineStyle:{color:'#000', width:1}};
  yAxis.push({type:'value', gridIndex:i, min:p.min, max:p.max, interval:p.interval, inverse:!!p.inverse, position:'left',
    name:p.name, nameLocation:'middle', nameGap:p.gap, nameMoveOverlap:false,
    nameTextStyle:{color:'#000', fontSize:FS, fontFamily:FONT},
    axisLine:{show:true, onZero:false, lineStyle:{color:'#000', width:1}},
    axisTick:yt, axisLabel:yLabel(!p.splitLabels), splitLine:{show:false}});
  yAxis.push({type:'value', gridIndex:i, min:p.min, max:p.max, interval:p.interval, inverse:!!p.inverse, position:'right',
    axisLine:{show:true, onZero:false, lineStyle:{color:'#000', width:1}},
    axisTick:yt, axisLabel:{show:false}, splitLine:{show:false}});
  const base = {xAxisIndex:2*i, yAxisIndex:2*i, data:p.data, animation:false, silent:true};
  if (p.kind==='line') {
    series.push(Object.assign({type:'line', symbol:'none', lineStyle:{color:'#0000ff', width:1}}, base));
  } else if (p.kind==='area') {
    series.push(Object.assign({type:'line', symbol:'none', lineStyle:{color:'#000022', width:0.8},
      areaStyle:{color:'#666666', opacity:1},
      markLine:{silent:true, symbol:['none','none'], label:{show:false},
        lineStyle:{color:'#000', width:2.5, type:'solid'}, data:[{yAxis:0}], animation:false}}, base));
  } else {
    series.push(Object.assign({type:'scatter', symbol:'circle', symbolSize:5.5, itemStyle:{color:'#0000ff'}}, base));
  }
});

// conductivity labels split over two overlay axes so that none is dropped
(function(){
  const p = panels[6], top = tops[6];
  const pxPerUnit = GH / (p.max - p.min);
  addLabelAxis(top, GH, p.min, p.max, 0.2);
  addLabelAxis(top + 0.1*pxPerUnit, GH - 0.2*pxPerUnit, p.min + 0.1, p.max - 0.1, 0.2);
})();

const chart = echarts.init(document.getElementById('c'), null, {renderer:'canvas'});
chart.setOption({
  animation:false,
  backgroundColor:'#fff',
  grid, xAxis, yAxis, series,
  graphic:[
    {type:'text', x:601, y:20, style:{text:titleText, fill:'#000', font:FS+'px '+FONT, textAlign:'center', textVerticalAlign:'middle'}},
    {type:'text', x:602, y:1647, style:{text:xLabelText, fill:'#000', font:FS+'px '+FONT, textAlign:'center', textVerticalAlign:'middle'}}
  ]
});
</script>
</body></html>
